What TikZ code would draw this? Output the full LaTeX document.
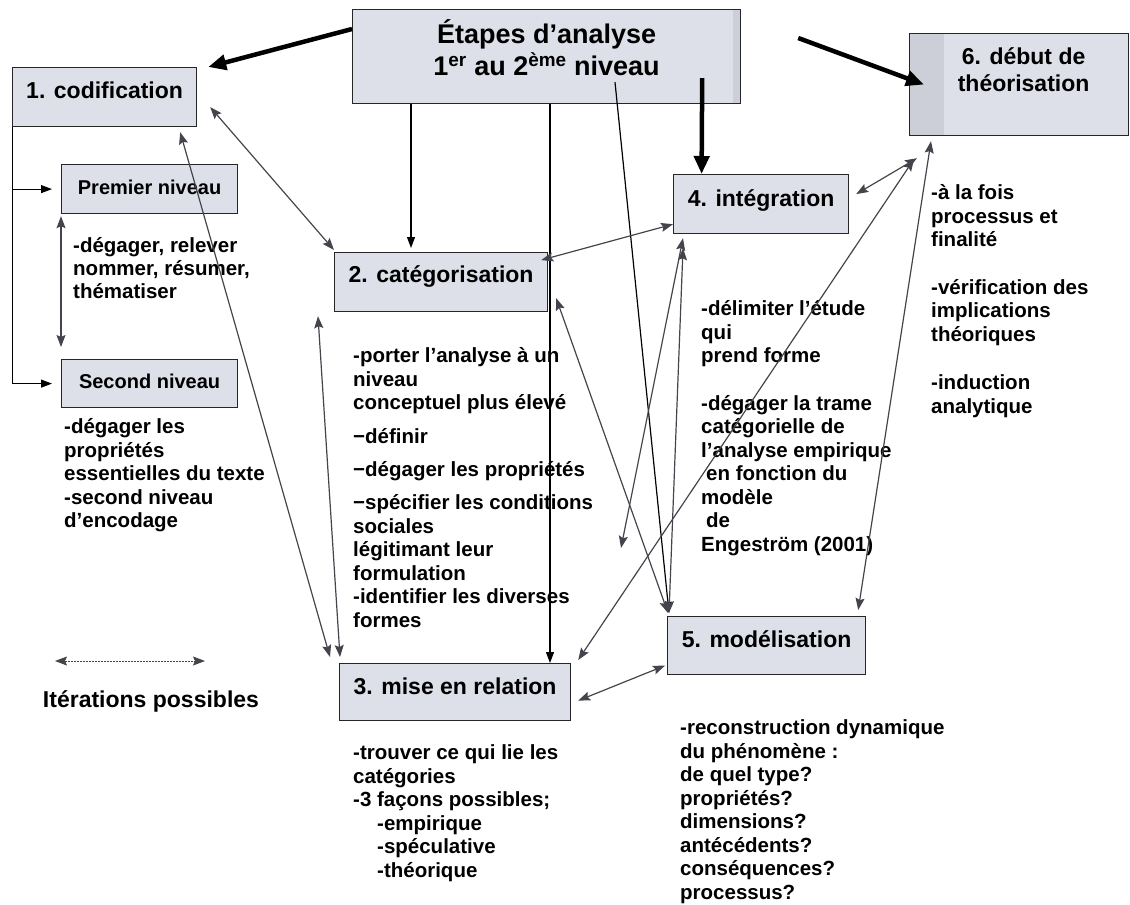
\documentclass[tikz,border=0pt]{standalone}
\usepackage{fontspec}
\setmainfont{Liberation Sans}
\usetikzlibrary{arrows.meta,calc}
\definecolor{boxfill}{RGB}{221,223,233}
\definecolor{stripfill}{RGB}{204,206,216}
\definecolor{itgray}{RGB}{68,68,76}
\begin{document}
\begin{tikzpicture}[x=1pt,y=-1pt,
  box/.style={draw=black!85, line width=1.2pt, fill=boxfill, inner sep=0pt, anchor=north west,
    font=\bfseries\fontsize{23}{27}\selectfont, align=center},
  body/.style={anchor=base west, inner sep=0pt, font=\bfseries\fontsize{20.5}{23.5}\selectfont, align=left},
  bigarrow/.style={line width=4.5pt, -{Triangle[length=18pt,width=15pt]}},
  thinarrow/.style={line width=1.2pt, -{Triangle[length=11pt,width=8pt]}},
  iter/.style={line width=1.2pt, draw=itgray, {Stealth[length=12pt,width=9pt,inset=2pt]}-{Stealth[length=12pt,width=9pt,inset=2pt]}},
]
\useasboundingbox (0,0) rectangle (1130,905);

% boxes
\node[box, minimum width=388pt, minimum height=94pt, text height=65.7pt, text depth=28.3pt,
  font=\bfseries\fontsize{27}{32}\selectfont,
  path picture={\fill[stripfill] ([xshift=-8pt]path picture bounding box.north east) rectangle (path picture bounding box.south east);}]
  (top) at (352,9) {Étapes d’analyse\\1\textsuperscript{er} au 2\textsuperscript{ème} niveau};
\node[box, minimum width=184pt, minimum height=59pt, text height=30.5pt, text depth=28.5pt] (cod) at (12,67) {1. codification};
\node[box, minimum width=176pt, minimum height=49pt, text height=29.4pt, text depth=19.6pt,
  font=\bfseries\fontsize{20}{24}\selectfont] (prem) at (61,164) {Premier niveau};
\node[box, minimum width=176pt, minimum height=48pt, text height=28.4pt, text depth=19.6pt,
  font=\bfseries\fontsize{20}{24}\selectfont] (sec) at (61,359) {Second niveau};
\node[box, minimum width=213pt, minimum height=59pt, text height=29.5pt, text depth=29.5pt] (cat) at (334,252) {2. catégorisation};
\node[box, minimum width=231pt, minimum height=57pt, text height=30.5pt, text depth=26.5pt] (mise) at (339,663) {3. mise en relation};
\node[box, minimum width=175pt, minimum height=59pt, text height=31.5pt, text depth=27.5pt] (integ) at (673,174) {4. intégration};
\node[box, minimum width=198pt, minimum height=58pt, text height=30.5pt, text depth=27.5pt] (model) at (667,616) {5. modélisation};
\node[box, minimum width=219pt, minimum height=102pt, text height=57.5pt, text depth=44.5pt,
  path picture={\fill[stripfill] (path picture bounding box.north west) rectangle ([xshift=34pt]path picture bounding box.south west);}]
  (theo) at (909,33) {\hspace*{9pt}6. début de\\\hspace*{9pt}théorisation};

% texts (anchored at the baseline of their last line)
\node[body] (tprem) at (73,298.5) {-dégager, relever\\[-0.5pt]nommer, résumer,\\[-0.5pt]thématiser};
\node[body] (tsec) at (64,527.5) {-dégager les\\propriétés\\essentielles du texte\\-second niveau\\d’encodage};
\node[body] (tcat) at (353,627) {-porter l’analyse à un\\niveau\\conceptuel plus élevé\\[10pt]−définir\\[9.5pt]−dégager les propriétés\\[10pt]−spécifier les conditions\\sociales\\légitimant leur\\formulation\\-identifier les diverses\\formes};
\node[body] (tint) at (701,551) {-délimiter l’étude\\qui\\prend forme\\[24pt]-dégager la trame\\catégorielle de\\l’analyse empirique\\\hspace*{5pt}en fonction du\\modèle\\\hspace*{5pt}de\\Engeström (2001)};
\node[body] (tth) at (931,413) {-à la fois\\processus et\\finalité\\[24pt]-vérification des\\implications\\théoriques\\[25pt]-induction\\analytique};
\node[body] (tmise) at (353,877) {-trouver ce qui lie les\\catégories\\-3 façons possibles;\\\hspace*{24pt}-empirique\\\hspace*{24pt}-spéculative\\\hspace*{24pt}-théorique};
\node[body] (tmod) at (680,899) {-reconstruction dynamique\\du phénomène :\\de quel type?\\propriétés?\\dimensions?\\antécédents?\\conséquences?\\processus?};
\node[anchor=base, inner sep=0pt, font=\bfseries\fontsize{23}{27}\selectfont] (iterlab) at (151,707) {Itérations possibles};

% thick arrows
\draw[bigarrow] ([yshift=-20pt]top.north west) -- ([xshift=11pt]cod.north east);
\draw[bigarrow] ([xshift=57pt,yshift=-29pt]top.north east) -- ([xshift=15pt]theo.west);
\draw[bigarrow] ([xshift=-39pt,yshift=26pt]top.south east) -- ([xshift=-59.5pt]integ.north);

% thin black arrows
\draw[thinarrow] ([xshift=59pt]top.south west) -- ([xshift=77pt,yshift=4pt]cat.north west);
\draw[thinarrow] ([xshift=198pt]top.south west) -- ([xshift=211pt]mise.north west);
\draw[thinarrow] ([xshift=263pt,yshift=22pt]top.south west) -- ([xshift=2pt,yshift=3pt]model.north west);

% bracket
\draw[thinarrow, line width=1pt] (cod.south west) |- ([xshift=-9pt]sec.west);
\draw[thinarrow, line width=1pt] (cod.south west |- prem.west) -- ([xshift=-9pt]prem.west);

% iteration arrows
\draw[iter] ([yshift=-2pt]prem.south west) -- ([yshift=12pt]sec.north west);
\draw[iter] ([xshift=13pt,yshift=-10pt]cod.east) -- ([yshift=2pt]cat.north west);
\draw[iter] ([xshift=-17pt,yshift=-5pt]cod.south east) -- ([xshift=-9pt,yshift=6pt]mise.north west);
\draw[iter] ([xshift=-16pt,yshift=-4pt]cat.south west) -- ([xshift=1pt,yshift=6pt]mise.north west);
\draw[iter] ([xshift=-7pt,yshift=22pt]cat.east) -- ([yshift=10pt]integ.south west);
\draw[iter] ([xshift=8pt,yshift=14pt]cat.south east) -- ([xshift=1pt,yshift=3pt]model.north west);
\coordinate (mid) at (621,548);
\draw[iter] ([xshift=10pt,yshift=-4pt]integ.south west) -- (mid);
\draw[iter] ([xshift=10pt,yshift=-14pt]integ.south west) -- ([xshift=2pt,yshift=3pt]model.north west);
\draw[iter] ([xshift=7pt,yshift=10pt]integ.east) -- ([xshift=8pt,yshift=-22pt]theo.south west);
\draw[iter] ([xshift=5pt,yshift=-23pt]theo.south west) -- ([xshift=7pt,yshift=3pt]mise.north east);
\draw[iter] ([xshift=22pt,yshift=-5pt]theo.south west) -- ([xshift=-8pt,yshift=6pt]model.north east);
\draw[iter] ([xshift=7pt,yshift=-8.5pt]mise.east) -- ([xshift=-2pt,yshift=-20pt]model.west);

% legend
\coordinate (l1) at (55,661);
\coordinate (l2) at (205,661);
\draw[iter, line width=0.9pt, dash pattern=on 2pt off 1pt] (l1) -- (l2);
\end{tikzpicture}
\end{document}
